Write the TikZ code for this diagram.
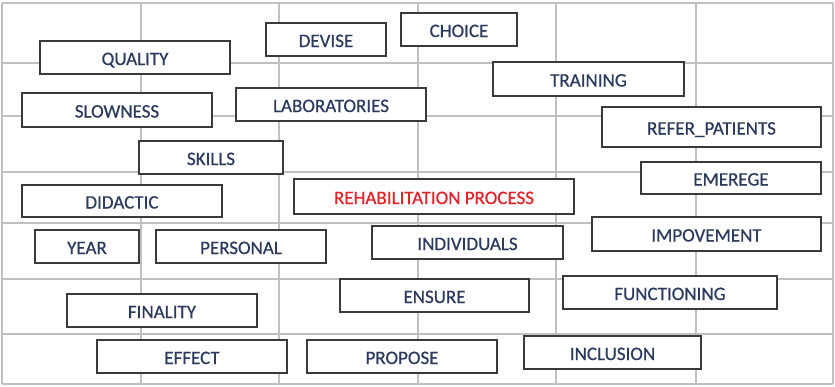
\documentclass[tikz,border=0pt]{standalone}
\usepackage{fontspec}
\setmainfont{Carlito}
\newfontfamily\termfont[FakeBold=0.6]{Carlito}
\definecolor{gridgray}{HTML}{C0C0C0}
\definecolor{boxedge}{HTML}{3A3A3A}
\definecolor{termblue}{HTML}{2C3A5E}
\definecolor{keyred}{HTML}{E3222A}
\begin{document}
\begin{tikzpicture}[x=1pt,y=-1pt,
  term/.style={draw=boxedge, line width=1.2pt, fill=white, text=termblue,
    font=\termfont\fontsize{19}{21}\selectfont, inner sep=0pt,
    text height=15pt, text depth=0pt, anchor=center},
  gridline/.style={draw=gridgray, line width=1.3pt}]
\useasboundingbox (0,0) rectangle (835,386);
\fill[white] (0,0) rectangle (835,386);
% background table
\foreach \gx in {2,141,279,418,556,696,833}
  \draw[gridline] (\gx,3) -- (\gx,384);
\foreach \gy in {3,63,116,172,223,279,334,384}
  \draw[gridline] (2,\gy) -- (833,\gy);
% term boxes
\node[term, minimum width=190pt, minimum height=33pt] (quality)   at (135,57.5)  {QUALITY};
\node[term, minimum width=190pt, minimum height=34pt] (slowness)  at (117,110)   {SLOWNESS};
\node[term, minimum width=120pt, minimum height=33pt] (devise)    at (326,39.5)  {DEVISE};
\node[term, minimum width=116pt, minimum height=33pt] (choice)    at (459,29.5)  {CHOICE};
\node[term, minimum width=190pt, minimum height=33pt] (labs)      at (331,104.5) {LABORATORIES};
\node[term, minimum width=191pt, minimum height=34pt] (training)  at (588.5,79)  {TRAINING};
\node[term, minimum width=219pt, minimum height=40pt] (refer)     at (711.5,127) {REFER\_PATIENTS};
\node[term, minimum width=144pt, minimum height=33pt] (skills)    at (211,157.5) {SKILLS};
\node[term, minimum width=200pt, minimum height=32pt] (didactic)  at (122,201)   {DIDACTIC};
\node[term, minimum width=104pt, minimum height=33pt] (year)      at (87,246.5)  {YEAR};
\node[term, minimum width=170pt, minimum height=33pt] (personal)  at (241,246.5) {PERSONAL};
\node[term, minimum width=280pt, minimum height=35pt, text=keyred] (rehab) at (434,196.5) {REHABILITATION PROCESS};
\node[term, minimum width=191pt, minimum height=33pt] (individuals) at (467.5,242.5) {INDIVIDUALS};
\node[term, minimum width=180pt, minimum height=32pt] (emerege)   at (731,178)   {EMEREGE};
\node[term, minimum width=229pt, minimum height=34pt] (impovement) at (706.5,234) {IMPOVEMENT};
\node[term, minimum width=190pt, minimum height=33pt] (finality)  at (162,310.5) {FINALITY};
\node[term, minimum width=190pt, minimum height=33pt] (effect)    at (192,356.5) {EFFECT};
\node[term, minimum width=189pt, minimum height=33pt] (ensure)    at (434.5,295.5) {ENSURE};
\node[term, minimum width=190pt, minimum height=33pt] (propose)   at (402,356.5) {PROPOSE};
\node[term, minimum width=214pt, minimum height=33pt] (functioning) at (670,292.5) {FUNCTIONING};
\node[term, minimum width=177pt, minimum height=33pt] (inclusion) at (612.5,352.5) {INCLUSION};
\end{tikzpicture}
\end{document}
